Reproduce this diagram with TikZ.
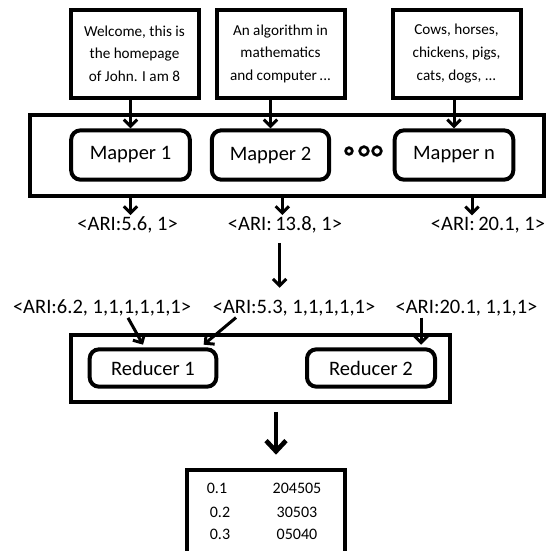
\documentclass[tikz,border=0pt]{standalone}
\usepackage{fontspec}
\setmainfont{Carlito}
\usetikzlibrary{arrows.meta, positioning}

\begin{document}
\begin{tikzpicture}[x=0.75pt, y=-0.75pt,
    doc/.style={draw, line width=3pt, minimum width=96pt, minimum height=66pt, align=center, inner sep=0pt, font=\fontsize{11.4}{16.9}\selectfont},
    frame/.style={draw, line width=3pt, inner sep=0pt},
    task/.style={draw, line width=3pt, rounded corners=7pt, minimum height=37pt, font=\fontsize{15.4}{18}\selectfont},
    kv/.style={inner sep=1pt, font=\fontsize{15.4}{18}\selectfont},
    cell/.style={inner sep=0pt, font=\fontsize{12}{14}\selectfont},
    arr/.style={-{Straight Barb[length=5pt,width=10pt]}, line width=2.25pt},
    bigarr/.style={-{Straight Barb[length=8pt,width=15pt]}, line width=3.5pt},
    ring/.style={circle, draw, line width=2pt, inner sep=0pt, fill=white}]
    \useasboundingbox (0,0) rectangle (549,551);

    % input documents
    \node[doc] (doc1) at (134.5,53.5) {Welcome, this is\\the homepage\\of John. I am 8};
    \node[doc] (doc2) at (280.5,53.5) {An algorithm in\\mathematics\\and computer\,...};
    \node[doc] (doc3) at (456.5,53.5) {Cows, horses,\\chickens, pigs,\\cats, dogs, ...};

    % map phase
    \node[frame, minimum width=386pt, minimum height=61pt] (mapbox) at (287,155.5) {};
    \node[task, minimum width=89pt] (map1) at (130.5,155) {Mapper 1};
    \node[task, minimum width=88pt] (map2) at (270.5,155) {Mapper 2};
    \node[task, minimum width=89pt] (mapn) at (454,155) {Mapper n};
    \node[ring, minimum size=5pt] (dot1) at (349,151) {};
    \node[ring, minimum size=6.5pt] (dot2) at (364,151) {};
    \node[ring, minimum size=6.5pt] (dot3) at (377,151) {};

    \draw[arr] (doc1.south -| map1) -- (map1);
    \draw[arr] (doc2.south -| map2) -- (map2);
    \draw[arr] (doc3.south -| mapn) -- (mapn);

    % mapper output
    \node[kv] (out1) at (127.6,225) {<ARI:5.6, 1>};
    \node[kv] (out2) at (285,225) {<ARI:\,13.8, 1>};
    \node[kv] (out3) at (488,225) {<ARI:\,20.1, 1>};

    \draw[arr] (map1 |- mapbox.south) -- (map1 |- out1.north);
    \draw[arr] ([xshift=-2pt]out2.north |- mapbox.south) -- ([xshift=-2pt]out2.north);
    \draw[arr] ([xshift=-12pt]out3.north |- mapbox.south) -- ([xshift=-12pt]out3.north);

    % shuffled
    \node[kv] (grp1) at (102,308) {<ARI:6.2, 1,1,1,1,1,1>};
    \node[kv] (grp2) at (294,308) {<ARI:5.3, 1,1,1,1,1>};
    \node[kv] (grp3) at (466.5,308) {<ARI:20.1, 1,1,1>};

    \draw[arr, shorten <=6pt, shorten >=8pt] ([xshift=-4pt]out2.south) -- ([xshift=-4pt]out2.south |- grp2.north);

    % reduce phase
    \node[frame, minimum width=284pt, minimum height=50pt] (redbox) at (260.5,368.5) {};
    \node[task, minimum width=95pt, minimum height=28pt] (red1) at (153,368) {Reducer 1};
    \node[task, minimum width=96pt, minimum height=28pt] (red2) at (371,368) {Reducer 2};

    \draw[arr] ([xshift=19.5pt]grp1.south) -- ([xshift=-7.5pt, yshift=2pt]red1.north);
    \draw[arr] ([xshift=-43.5pt]grp2.south) -- ([xshift=38pt, yshift=2pt]red1.north);
    \draw[arr] ([xshift=-34pt]grp3.south) -- ([xshift=-34pt, yshift=2pt]grp3.south |- red2.north);

    % result
    \node[frame, minimum width=118pt, minimum height=80pt, anchor=north] (result) at (266,468) {};
    \draw[bigarr, shorten <=6pt, shorten >=10pt] (redbox.south -| 276,0) -- (result.north -| 276,0);

    \node[cell] (k1) at (217,488) {0.1};
    \node[cell] (v1) at (297,488) {204505};
    \node[cell] (k2) at (220,512) {0.2};
    \node[cell] (v2) at (297,512) {30503};
    \node[cell] (k3) at (220,534) {0.3};
    \node[cell] (v3) at (297,534) {05040};
\end{tikzpicture}
\end{document}
